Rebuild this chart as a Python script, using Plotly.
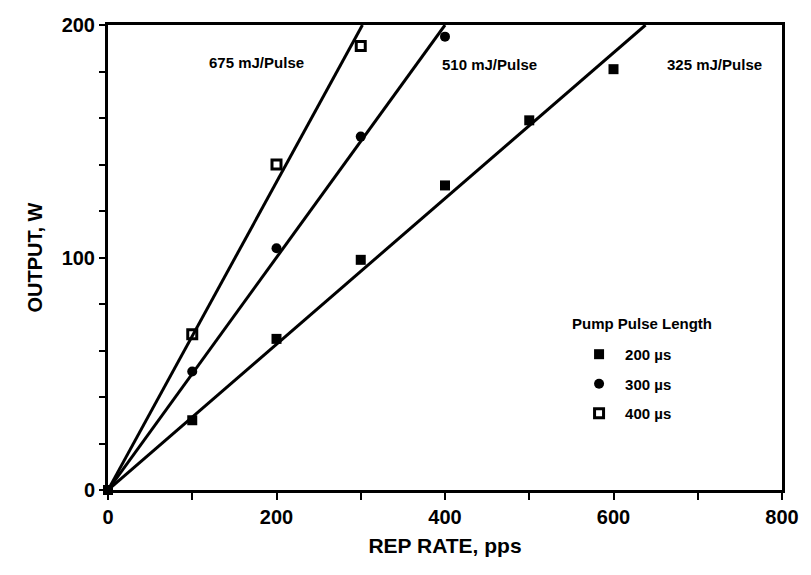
import plotly.graph_objects as go

# Data
rate_200 = [0, 100, 200, 300, 400, 500, 600]
out_200 = [0, 30, 65, 99, 131, 159, 181]

rate_300 = [100, 200, 300, 400]
out_300 = [51, 104, 152, 195]

rate_400 = [100, 200, 300]
out_400 = [67, 140, 191]

# Fitted lines: from origin to where they meet the 200 W top edge
line_names = ["675 mJ/Pulse", "510 mJ/Pulse", "325 mJ/Pulse"]
line_x = [[0, 302], [0, 400], [0, 638]]
line_y = [[0, 200], [0, 200], [0, 200]]
label_x = [176, 453, 720]
label_y = [184, 183, 183]

legend_title = "Pump Pulse Length"
legend_title_x = 634
legend_title_y = 71.5

font_main = "Liberation Sans, Arial, sans-serif"

fig = go.Figure()
for xs, ys in zip(line_x, line_y):
    fig.add_trace(go.Scatter(x=xs, y=ys, mode="lines",
                             line=dict(color="black", width=3),
                             showlegend=False, hoverinfo="skip", cliponaxis=False))

fig.add_trace(go.Scatter(x=rate_200, y=out_200, mode="markers", name="200 µs",
                         legendgroup="a",
                         marker=dict(symbol="square", size=10, color="black"),
                         cliponaxis=False))
fig.add_trace(go.Scatter(x=rate_300, y=out_300, mode="markers", name="300 µs",
                         legendgroup="b",
                         marker=dict(symbol="circle", size=10, color="black"),
                         cliponaxis=False))
fig.add_trace(go.Scatter(x=rate_400, y=out_400, mode="markers", name="400 µs",
                         legendgroup="c",
                         marker=dict(symbol="square-open", size=9, color="black",
                                     line=dict(width=3, color="black")),
                         cliponaxis=False))

for name, xx, yy in zip(line_names, label_x, label_y):
    fig.add_annotation(x=xx, y=yy, text=name, showarrow=False,
                       font=dict(family=font_main, size=15, color="black", weight="bold"))

fig.add_annotation(x=legend_title_x, y=legend_title_y, text=legend_title, showarrow=False,
                   font=dict(family=font_main, size=15, color="black", weight="bold"))

fig.update_layout(
    width=811, height=575,
    margin=dict(l=108, r=23, t=25, b=85),
    paper_bgcolor="white", plot_bgcolor="white",
    font=dict(family=font_main, color="black"),
    legend=dict(
        font=dict(size=15, family=font_main, weight="bold"),
        x=0.69, y=0.327, xanchor="left", yanchor="top",
        bgcolor="rgba(0,0,0,0)", itemwidth=42, tracegroupgap=7,
    ),
    xaxis=dict(
        range=[0, 800], tickvals=[0, 100, 200, 300, 400, 500, 600, 700, 800],
        ticktext=["0", "", "200", "", "400", "", "600", "", "800"],
        ticks="outside", ticklen=7, tickwidth=2, tickcolor="black",
        showline=True, linewidth=3, linecolor="black", mirror=True,
        showgrid=False, zeroline=False,
        tickfont=dict(size=20, family=font_main, weight="bold"),
        title=dict(text="REP RATE, pps", font=dict(size=21, family=font_main, weight="bold"),
                   standoff=12),
    ),
    yaxis=dict(
        range=[0, 200], tickvals=list(range(0, 201, 20)),
        ticktext=[str(v) if v in (0, 100, 200) else "" for v in range(0, 201, 20)],
        ticks="outside", ticklen=6, tickwidth=2, tickcolor="black",
        showline=True, linewidth=3, linecolor="black", mirror=True,
        showgrid=False, zeroline=False,
        tickfont=dict(size=20, family=font_main, weight="bold"),
        title=dict(text="OUTPUT, W", font=dict(size=20, family=font_main, weight="bold"),
                   standoff=14),
    ),
)

fig.write_html("out.html")
